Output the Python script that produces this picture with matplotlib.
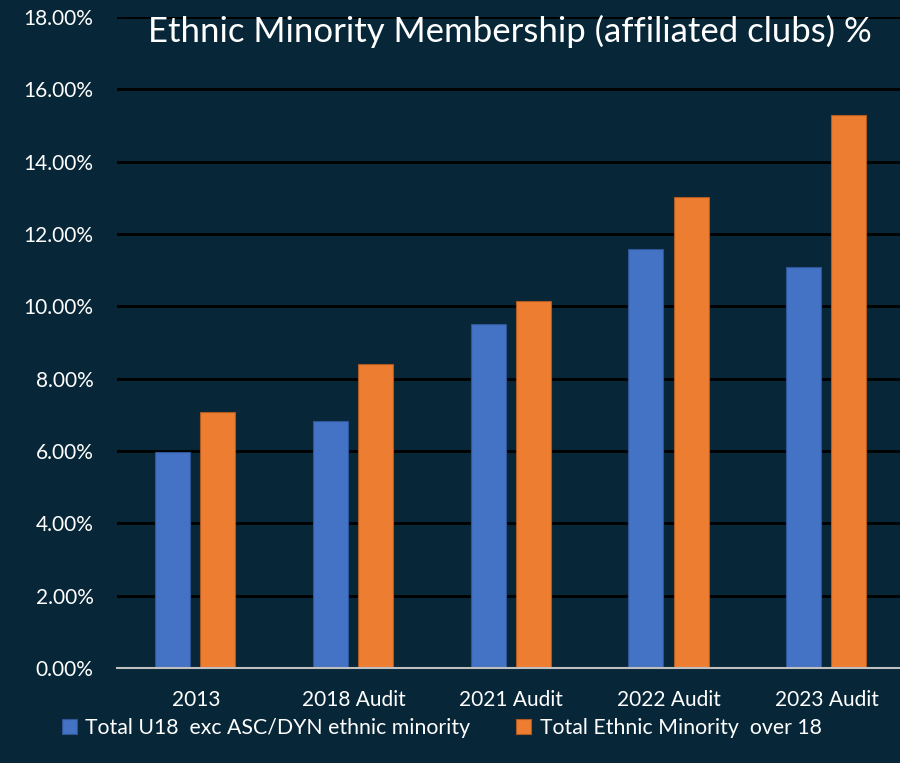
import matplotlib
matplotlib.use("Agg")
import matplotlib.pyplot as plt
import numpy as np
from matplotlib.ticker import FuncFormatter, MultipleLocator

categories = ["2013", "2018 Audit", "2021 Audit", "2022 Audit", "2023 Audit"]
u18 = [5.98, 6.83, 9.51, 11.58, 11.09]
over18 = [7.08, 8.40, 10.15, 13.02, 15.29]
series_names = ["Total U18  exc ASC/DYN ethnic minority", "Total Ethnic Minority  over 18"]
title = "Ethnic Minority Membership (affiliated clubs) %"

bg = "#072637"
blue = "#4472C4"
orange = "#ED7D31"
plt.rcParams['font.family'] = ['Lato', 'DejaVu Sans']

fig = plt.figure(figsize=(9, 7.63), dpi=100, facecolor=bg)
ax = fig.add_axes([117/900, 95/763, 788.5/900, 651/763], facecolor=bg)

x = np.arange(len(categories))
w = 0.222
ax.bar(x - 0.146, u18, width=w, color=blue, edgecolor="#2f5597", linewidth=0.8, zorder=3,
       label=series_names[0])
ax.bar(x + 0.140, over18, width=w, color=orange, edgecolor="#ae5a21", linewidth=0.8, zorder=3,
       label=series_names[1])

ax.set_xlim(-0.5, len(categories) - 0.5)
ax.set_ylim(0, 18)
ax.yaxis.set_major_locator(MultipleLocator(2))
ax.yaxis.set_major_formatter(FuncFormatter(lambda v, p: f"{v:.2f}%"))
ax.grid(axis="y", color="black", linewidth=2, zorder=0)
ax.set_axisbelow(True)
for s in ["top", "right", "left"]:
    ax.spines[s].set_visible(False)
ax.spines["bottom"].set_color("#bfbfbf")
ax.spines["bottom"].set_linewidth(1.5)
ax.spines["bottom"].set_zorder(4)
ax.set_xticks(x)
ax.set_xticklabels(categories)
ax.tick_params(axis="both", length=0, colors="white", labelsize=15)
ax.tick_params(axis="x", pad=16)
ax.tick_params(axis="y", pad=17)

fig.text(510/900, 1 - 31/763, title, color="white", fontsize=25, ha="center", va="center")

leg = fig.legend(loc="center left", bbox_to_anchor=(62/900, 1 - 728/763), ncol=2,
                 frameon=False, fontsize=15.3, labelcolor="white", handlelength=0.7,
                 handleheight=0.7, handletextpad=0.4, columnspacing=2.15, borderaxespad=0,
                 borderpad=0)

fig.savefig("out.png", dpi=100, facecolor=bg)
